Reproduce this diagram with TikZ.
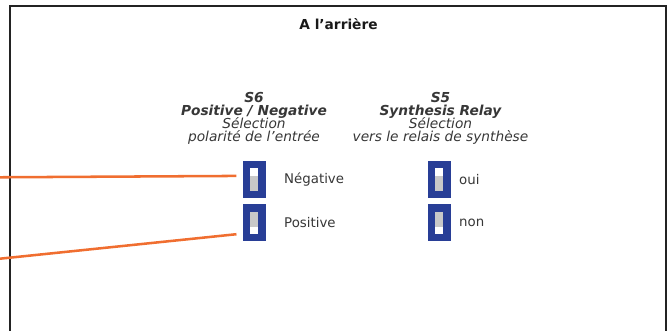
\documentclass[tikz,border=0pt]{standalone}
\usepackage{fontspec}
\setmainfont{DejaVu Sans}
\usetikzlibrary{positioning, calc}
\definecolor{swblue}{RGB}{40,62,150}
\definecolor{swgray}{RGB}{200,200,200}
\definecolor{wireorange}{RGB}{240,110,48}
\definecolor{framegray}{RGB}{35,35,35}
\definecolor{txtgray}{RGB}{55,55,55}
\newcommand\colfont{\fontsize{10.3}{9.85}\selectfont\lineskiplimit=-20pt\relax}

\begin{document}
\begin{tikzpicture}[x=0.75pt, y=-0.75pt,
    every node/.style={inner sep=0pt},
    swbody/.style={fill=swblue, minimum width=17.25pt, minimum height=27.75pt},
    swdown/.style={swbody, path picture={
      \fill[white] ($(path picture bounding box.center)+(-4.2,-11.3)$) rectangle +(8.4,22.6);
      \fill[swgray] ($(path picture bounding box.center)+(-4.2,-3.7)$) rectangle +(8.4,15);}},
    swup/.style={swbody, path picture={
      \fill[white] ($(path picture bounding box.center)+(-4.2,-11.3)$) rectangle +(8.4,22.6);
      \fill[swgray] ($(path picture bounding box.center)+(-4.2,-11.3)$) rectangle +(8.4,15);}},
    swlabel/.style={font=\fontsize{10}{11}\selectfont, text=txtgray, anchor=west},
    colhead/.style={font=\colfont, text=txtgray, align=center, anchor=base},
    wire/.style={wireorange, line width=1.9pt}]
  \useasboundingbox (0,0) rectangle (669,331);
  \clip (0,0) rectangle (669,331);
  \draw[framegray, line width=1.1pt] (10,6) rectangle (666,350);

  \node[font=\bfseries\fontsize{10.3}{11}\selectfont, text=black!90, anchor=base] (title) at (338.5,30) {A l’arrière};

  % colonnes
  \node[colhead] (s6) at (254,141.7) {\bfseries\itshape S6\\ \bfseries\itshape Positive / Negative\\ \itshape Sélection\\ \itshape polarité de l’entrée};
  \node[colhead] (s5) at (440.5,141.7) {\bfseries\itshape S5\\ \bfseries\itshape Synthesis Relay\\ \itshape Sélection\\ \itshape vers le relais de synthèse};

  % commutateurs
  \node[swdown] (swneg) at (254.2,179.5) {};
  \node[swup] (swpos) at (254.2,223) {};
  \node[swdown] (swoui) at (439.2,179.5) {};
  \node[swup] (swnon) at (439.2,223) {};

  \node[swlabel, right=18 of swneg] (lneg) {Négative};
  \node[swlabel, right=18 of swpos] (lpos) {Positive};
  \node[swlabel, right=8 of swoui] (loui) {oui};
  \node[swlabel, right=8 of swnon] (lnon) {non};

  % fils
  \coordinate (wneg) at (-2,177.3);
  \coordinate (wpos) at (-2,258.9);
  \draw[wire, shorten >=4.5pt] (wneg) -- (swneg.163);
  \draw[wire, shorten >=4.5pt] (wpos) -- (swpos.222);
\end{tikzpicture}
\end{document}
